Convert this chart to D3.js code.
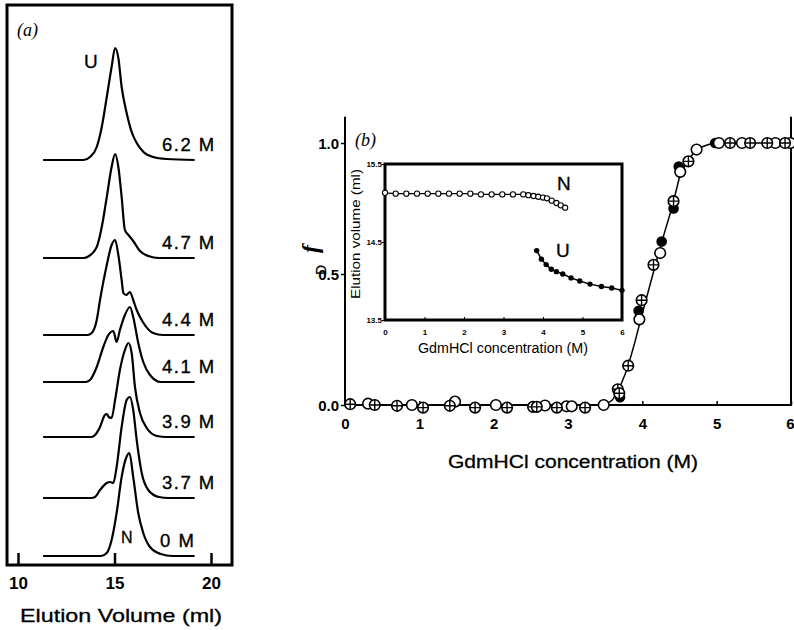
<!DOCTYPE html>
<html><head><meta charset="utf-8">
<script src="https://cdn.jsdelivr.net/npm/d3@7"></script>
<style>body{margin:0;background:#fff} svg{display:block}</style>
</head><body><svg id="c" width="794" height="630"></svg>
<script>
// ---------- Panel (a) data: chromatograms [elution volume (ml), signal] ----------
const concLabels = ["0 M", "3.7 M", "3.9 M", "4.1 M", "4.4 M", "4.7 M", "6.2 M"];
const traceOffsets = [0, 0.58, 1.19, 1.74, 2.21, 2.98, 3.96];
const trace0 = [[11.3,0],[14.3,0],[14.6,0.03],[14.85,0.16],[15.11,0.43],[15.37,0.79],[15.6,0.98],[15.77,1.03],[15.97,0.79],[16.23,0.43],[16.49,0.23],[16.84,0.09],[17.4,0.02],[18,0],[19.15,0]];
const trace37 = [[11.3,0],[13.8,0],[13.99,0.01],[14.25,0.08],[14.6,0.15],[14.77,0.16],[14.94,0.15],[15.11,0.31],[15.37,0.71],[15.63,0.98],[15.8,1.01],[15.97,0.88],[16.15,0.58],[16.41,0.25],[16.75,0.08],[17.3,0.01],[17.8,0],[19.15,0]];
const trace39 = [[11.3,0],[13.8,0],[13.99,0.02],[14.25,0.1],[14.5,0.22],[14.6,0.23],[14.7,0.2],[14.85,0.19],[15.03,0.37],[15.28,0.67],[15.54,0.87],[15.72,0.94],[15.89,0.84],[16.06,0.5],[16.32,0.24],[16.67,0.09],[17.2,0.01],[17.7,0],[19.15,0]];
const trace41 = [[11.3,0],[13.5,0],[13.73,0.02],[14.08,0.15],[14.42,0.35],[14.68,0.47],[14.94,0.51],[15.11,0.4],[15.28,0.52],[15.54,0.67],[15.8,0.75],[15.97,0.65],[16.23,0.39],[16.49,0.2],[16.84,0.07],[17.4,0],[19.15,0]];
const trace44 = [[11.3,0],[13.6,0],[13.82,0.02],[14.08,0.15],[14.25,0.35],[14.6,0.7],[14.85,0.9],[15.03,0.95],[15.2,0.8],[15.37,0.55],[15.46,0.42],[15.6,0.4],[15.8,0.43],[15.97,0.35],[16.15,0.25],[16.5,0.12],[17.0,0.02],[17.5,0],[19.15,0]];
const trace47 = [[11.3,0],[13.4,0],[13.64,0.015],[14.08,0.11],[14.34,0.31],[14.6,0.61],[14.85,0.91],[15.03,1.04],[15.2,0.91],[15.37,0.61],[15.54,0.28],[15.72,0.23],[15.97,0.17],[16.32,0.07],[16.75,0.02],[17.3,0],[19.15,0]];
const trace62 = [[11.3,0],[13.4,0],[13.73,0.03],[14.08,0.13],[14.34,0.33],[14.6,0.63],[14.85,0.93],[15.03,1.12],[15.2,1.02],[15.37,0.73],[15.63,0.47],[15.89,0.28],[16.15,0.17],[16.5,0.08],[17.0,0.03],[17.7,0.01],[19.15,0]];
const traces = [trace0, trace37, trace39, trace41, trace44, trace47, trace62];
const elutionTicks = [10, 15, 20];

// ---------- Panel (b) data: fraction denatured ----------
const concTicks = [0, 1, 2, 3, 4, 5, 6];
const fdTicks = [0, 0.5, 1.0];
const fdTickLabels = ["0.0", "0.5", "1.0"];
const openX = [0.31, 0.9, 1.48, 2.03, 2.69, 2.98, 3.05, 3.48, 3.96, 4.24, 4.51, 4.73, 5.03, 5.34, 5.79, 5.99];
const openY = [0.005, 0.0, 0.013, 0.0, -0.002, -0.005, -0.005, 0.0, 0.327, 0.58, 0.89, 0.975, 1.0, 1.0, 1.0, 1.0];
const crossX = [0.07, 0.4, 0.7, 1.05, 1.41, 1.75, 2.18, 2.53, 2.58, 2.85, 3.23, 3.67, 3.69, 3.81, 3.99, 4.15, 4.42, 4.62, 5.18, 5.45, 5.68, 5.92];
const crossY = [0.003, 0.0, -0.003, -0.01, -0.003, -0.01, -0.01, -0.007, -0.007, -0.01, -0.01, 0.06, 0.045, 0.15, 0.4, 0.535, 0.778, 0.93, 1.0, 1.0, 1.0, 1.0];
const filledX = [3.7, 3.95, 4.26, 4.42, 4.49, 4.98];
const filledY = [0.03, 0.36, 0.624, 0.75, 0.91, 1.0];
const fitX = [0, 3.5, 3.6, 3.7, 3.8, 3.9, 4.0, 4.1, 4.2, 4.3, 4.4, 4.5, 4.6, 4.7, 4.8, 4.9, 5.0, 6.0];
const fitY = [0, 0, 0.02, 0.07, 0.14, 0.24, 0.35, 0.455, 0.56, 0.66, 0.755, 0.87, 0.93, 0.965, 0.985, 0.995, 1.0, 1.0];

// ---------- Inset data: elution volume ----------
const insetXTicks = [0, 1, 2, 3, 4, 5, 6];
const insetYTicks = [13.5, 14.5, 15.5];
const insetNX = [0, 0.27, 0.54, 0.81, 1.08, 1.35, 1.62, 1.89, 2.16, 2.43, 2.7, 2.97, 3.24, 3.5, 3.63, 3.76, 3.88, 4.0, 4.1, 4.22, 4.34, 4.45, 4.56];
const insetNY = [15.13, 15.12, 15.12, 15.12, 15.12, 15.12, 15.12, 15.12, 15.12, 15.11, 15.11, 15.11, 15.11, 15.11, 15.1, 15.09, 15.08, 15.07, 15.06, 15.03, 15.0, 14.97, 14.94];
const insetUX = [3.84, 3.96, 4.08, 4.21, 4.34, 4.5, 4.71, 4.93, 5.19, 5.48, 5.74, 6.0];
const insetUY = [14.39, 14.28, 14.21, 14.15, 14.12, 14.09, 14.04, 14.0, 13.96, 13.93, 13.91, 13.88];

// ---------- drawing ----------
const svg = d3.select("#c");
const SANS = "'Liberation Sans', Arial, Helvetica, sans-serif";
const SERIF = "'Liberation Serif', 'DejaVu Serif', serif";

// Panel (a)
const xA = d3.scaleLinear().domain([10, 20]).range([18, 211]);
const yA = d3.scaleLinear().domain([0, 1]).range([556, 456]);
const gA = svg.append("g");
gA.append("rect").attr("x", 7).attr("y", 5).attr("width", 225).attr("height", 560)
  .attr("fill", "none").attr("stroke", "#000").attr("stroke-width", 3);
const axA = d3.axisBottom(xA).tickValues(elutionTicks).tickSize(-12).tickFormat(d3.format("d"));
const axAG = gA.append("g").attr("transform", "translate(0,565)").call(axA);
axAG.select(".domain").remove();
axAG.selectAll(".tick line").attr("stroke-width", 2.5);
axAG.selectAll(".tick text").attr("y", 24).attr("dy", 0)
  .style("font-family", SANS).style("font-weight", "bold").style("font-size", "17px");

const lineA = d3.line().curve(d3.curveMonotoneX);
traces.forEach((tr, i) => {
  const off = traceOffsets[i];
  gA.append("path")
    .attr("d", lineA(tr.map(p => [xA(p[0]), yA(p[1] + off)])))
    .attr("fill", "none").attr("stroke", "#000").attr("stroke-width", 2.2)
    .attr("stroke-linejoin", "round");
  gA.append("text").attr("x", i === 0 ? 160 : 162).attr("y", yA(off) - 9)
    .attr("stroke", "#000").attr("stroke-width", 0.35)
    .style("font-family", SANS).style("font-size", "18.5px").style("letter-spacing", "1.5px")
    .text(concLabels[i]);
});
gA.append("text").attr("x", 84).attr("y", 68).attr("stroke", "#000").attr("stroke-width", 0.3)
  .style("font-family", SANS).style("font-size", "19px").text("U");
gA.append("text").attr("x", 121).attr("y", 543).attr("stroke", "#000").attr("stroke-width", 0.3)
  .style("font-family", SANS).style("font-size", "16px").text("N");
gA.append("text").attr("x", 17).attr("y", 36).style("font-family", SERIF).style("font-style", "italic")
  .style("font-size", "18px").text("(a)");
gA.append("text").attr("x", 121).attr("y", 622).attr("text-anchor", "middle")
  .attr("textLength", 202).attr("lengthAdjust", "spacingAndGlyphs")
  .attr("stroke", "#000").attr("stroke-width", 0.3)
  .style("font-family", SANS).style("font-size", "18.5px").text("Elution Volume (ml)");

// Panel (b)
const xB = d3.scaleLinear().domain([0, 6]).range([345, 791]);
const yB = d3.scaleLinear().domain([0, 1]).range([405, 143]);
const gB = svg.append("g");
gB.append("path").attr("d", `M${xB(0)},${yB(1.1)}V${yB(0)}H${xB(6)}V${yB(1.1)}`)
  .attr("fill", "none").attr("stroke", "#000").attr("stroke-width", 2);
const axBx = d3.axisBottom(xB).tickValues(concTicks).tickSize(-4).tickFormat(d3.format("d"));
const gBx = gB.append("g").attr("transform", `translate(0,${yB(0)})`).call(axBx);
gBx.select(".domain").remove();
gBx.selectAll(".tick line").attr("stroke-width", 1.5);
gBx.selectAll(".tick text").attr("y", 24).attr("dy", 0)
  .style("font-family", SANS).style("font-weight", "bold").style("font-size", "15px");
// last label sits against the page edge, as in the reference
gBx.selectAll(".tick text").filter(d => d === 6).attr("text-anchor", "end").attr("x", 794 - xB(6));
const axBy = d3.axisLeft(yB).tickValues(fdTicks).tickSize(4).tickFormat((d, i) => fdTickLabels[i]);
const gBy = gB.append("g").attr("transform", `translate(${xB(0)},0)`).call(axBy);
gBy.select(".domain").remove();
gBy.selectAll(".tick line").attr("stroke-width", 1.5);
gBy.selectAll(".tick text").attr("x", -6).attr("dy", "0.36em")
  .style("font-family", SANS).style("font-weight", "bold").style("font-size", "15px");

gB.append("path").datum(fitX.map((x, i) => [x, fitY[i]]))
  .attr("d", d3.line().x(d => xB(d[0])).y(d => yB(d[1])))
  .attr("fill", "none").attr("stroke", "#000").attr("stroke-width", 1.5);

const R = 5.3;
gB.selectAll(".filled").data(filledX.map((x, i) => [x, filledY[i]])).join("circle")
  .attr("cx", d => xB(d[0])).attr("cy", d => yB(d[1])).attr("r", R).attr("fill", "#000");
gB.selectAll(".open").data(openX.map((x, i) => [x, openY[i]])).join("circle")
  .attr("cx", d => xB(d[0])).attr("cy", d => yB(d[1])).attr("r", R)
  .attr("fill", "#fff").attr("stroke", "#000").attr("stroke-width", 1.6);
const cg = gB.selectAll(".cross").data(crossX.map((x, i) => [x, crossY[i]])).join("g")
  .attr("transform", d => `translate(${xB(d[0])},${yB(d[1])})`);
cg.append("circle").attr("r", R).attr("fill", "#fff").attr("stroke", "#000").attr("stroke-width", 1.6);
cg.append("path").attr("d", `M${-R},0H${R}M0,${-R}V${R}`).attr("stroke", "#000").attr("stroke-width", 1.4);

gB.append("text").attr("x", 355).attr("y", 146).style("font-family", SERIF).style("font-style", "italic")
  .style("font-size", "18px").text("(b)");
gB.append("text").attr("x", 573).attr("y", 468).attr("text-anchor", "middle")
  .attr("textLength", 250).attr("lengthAdjust", "spacingAndGlyphs")
  .attr("stroke", "#000").attr("stroke-width", 0.3)
  .style("font-family", SANS).style("font-size", "18.5px").text("GdmHCl concentration (M)");
// y label: italic f with D set below it, both turned 90 degrees
gB.append("text").attr("transform", "translate(318,249) rotate(-90)").attr("text-anchor", "middle")
  .style("font-family", SERIF).style("font-style", "italic").style("font-weight", "bold")
  .style("font-size", "24px").text("f");
gB.append("text").attr("transform", "translate(326,270) rotate(-90)").attr("text-anchor", "middle")
  .attr("stroke", "#000").attr("stroke-width", 0.3)
  .style("font-family", SANS).style("font-size", "14px").text("D");

// Inset
const xI = d3.scaleLinear().domain([0, 6]).range([385, 622]);
const yI = d3.scaleLinear().domain([13.5, 15.5]).range([320, 164]);
const gI = svg.append("g");
gI.append("rect").attr("x", xI(0)).attr("y", yI(15.5)).attr("width", xI(6) - xI(0)).attr("height", yI(13.5) - yI(15.5))
  .attr("fill", "#fff").attr("stroke", "#000").attr("stroke-width", 3);
const axIx = d3.axisBottom(xI).tickValues(insetXTicks).tickSize(-3).tickFormat(d3.format("d"));
const gIx = gI.append("g").attr("transform", `translate(0,${yI(13.5)})`).call(axIx);
gIx.select(".domain").remove();
gIx.selectAll(".tick text").attr("y", 15).attr("dy", 0)
  .style("font-family", SANS).style("font-weight", "bold").style("font-size", "8px");
const axIy = d3.axisLeft(yI).tickValues(insetYTicks).tickSize(3).tickFormat(d3.format(".1f"));
const gIy = gI.append("g").attr("transform", `translate(${xI(0)},0)`).call(axIy);
gIy.select(".domain").remove();
gIy.selectAll(".tick text").attr("x", -3).attr("dy", "0.36em")
  .style("font-family", SANS).style("font-weight", "bold").style("font-size", "8px");

const lineI = d3.line().x(d => xI(d[0])).y(d => yI(d[1]));
const nData = insetNX.map((x, i) => [x, insetNY[i]]);
const uData = insetUX.map((x, i) => [x, insetUY[i]]);
gI.append("path").attr("d", lineI(nData)).attr("fill", "none").attr("stroke", "#000").attr("stroke-width", 1.3);
gI.append("path").attr("d", lineI(uData)).attr("fill", "none").attr("stroke", "#000").attr("stroke-width", 1.5);
gI.selectAll(".n").data(nData).join("circle").attr("cx", d => xI(d[0])).attr("cy", d => yI(d[1])).attr("r", 2.6)
  .attr("fill", "#fff").attr("stroke", "#000").attr("stroke-width", 1.1);
gI.selectAll(".u").data(uData).join("circle").attr("cx", d => xI(d[0])).attr("cy", d => yI(d[1])).attr("r", 2.7)
  .attr("fill", "#000");
gI.append("text").attr("x", 557).attr("y", 190).attr("stroke", "#000").attr("stroke-width", 0.3)
  .style("font-family", SANS).style("font-size", "19px").text("N");
gI.append("text").attr("x", 556).attr("y", 257).attr("stroke", "#000").attr("stroke-width", 0.3)
  .style("font-family", SANS).style("font-size", "19px").text("U");
gI.append("text").attr("x", 503).attr("y", 353).attr("text-anchor", "middle")
  .attr("textLength", 170).attr("lengthAdjust", "spacingAndGlyphs")
  .style("font-family", SANS).style("font-size", "14px").text("GdmHCl concentration (M)");
gI.append("text").attr("transform", "translate(360,234) rotate(-90)").attr("text-anchor", "middle")
  .attr("textLength", 130).attr("lengthAdjust", "spacingAndGlyphs")
  .style("font-family", SANS).style("font-size", "12.5px").text("Elution volume (ml)");
</script></body></html>
